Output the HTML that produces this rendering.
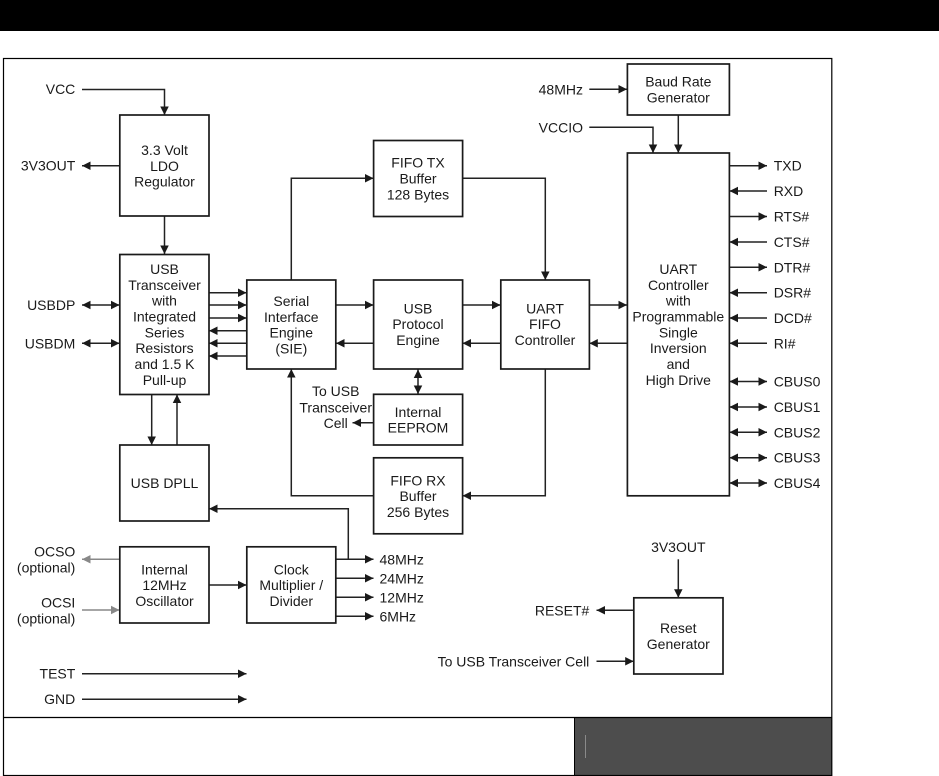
<!DOCTYPE html>
<html><head><meta charset="utf-8"><title>Block diagram</title>
<style>
html,body{margin:0;padding:0;background:#fff}
svg{display:block}
text{font-family:"Liberation Sans",sans-serif;font-size:14px;fill:#1a1a1a}
.m{text-anchor:middle}.e{text-anchor:end}
.b{fill:#fff;stroke:#1a1a1a;stroke-width:1.7}
.l{fill:none;stroke:#222;stroke-width:1.5}
.a{marker-end:url(#h)}
.d{marker-start:url(#h);marker-end:url(#h)}
.g{fill:none;stroke:#888;stroke-width:1.5;marker-end:url(#gh)}
</style></head><body>
<svg width="939" height="776" viewBox="0 0 939 776" xmlns="http://www.w3.org/2000/svg">
<defs>
<marker id="h" viewBox="0 0 8 8" refX="8" refY="4" markerWidth="8.5" markerHeight="9" markerUnits="userSpaceOnUse" orient="auto-start-reverse"><path d="M0,0L8,4L0,8z" fill="#1a1a1a"/></marker>
<marker id="gh" viewBox="0 0 8 8" refX="8" refY="4" markerWidth="8.5" markerHeight="9" markerUnits="userSpaceOnUse" orient="auto"><path d="M0,0L8,4L0,8z" fill="#888"/></marker>
</defs>
<rect x="0" y="0" width="939" height="31" fill="#000"/>
<rect x="574.5" y="717.5" width="257.5" height="58" fill="#4d4d4d"/>
<rect x="585" y="735" width="1" height="23" fill="#8a8a8a"/>
<rect x="3.5" y="58.5" width="828.3" height="717" fill="none" stroke="#000" stroke-width="1.2"/>
<path d="M3.5 717.5H832" stroke="#000" stroke-width="1.2" fill="none"/>
<path d="M574.5 717.5V775.5" stroke="#000" stroke-width="1" fill="none"/>

<!-- connectors -->
<g class="l">
<path class="a" d="M82 89.5H164.5V115"/>
<path class="a" d="M120 165.7H82"/>
<path class="a" d="M164.5 216V254"/>
<path class="d" d="M82 305H119.5"/>
<path class="d" d="M82 343.3H119.5"/>
<path class="a" d="M209 292.7H246.5"/>
<path class="a" d="M209 305H246.5"/>
<path class="a" d="M209 318H246.5"/>
<path class="a" d="M246.5 330.7H209"/>
<path class="a" d="M246.5 343.3H209"/>
<path class="a" d="M246.5 356H209"/>
<path class="a" d="M291.3 280V178.3H373.5"/>
<path class="a" d="M336 305H373.5"/>
<path class="a" d="M373.5 343.3H336"/>
<path class="d" d="M418 369.5V394"/>
<path class="a" d="M462.5 305H500.5"/>
<path class="a" d="M500.5 343.3H462.5"/>
<path class="a" d="M462.5 178.3H545.3V280"/>
<path class="a" d="M589.3 305H627"/>
<path class="a" d="M627 343.3H589.3"/>
<path class="a" d="M545.3 369V495.7H462.5"/>
<path class="a" d="M373.5 495.7H291.3V369"/>
<path class="a" d="M373.5 422.7H352.5"/>
<path class="a" d="M151.7 394V445"/>
<path class="a" d="M177 445V394.5"/>
<path class="a" d="M348.3 559V508.7H209"/>
<path class="a" d="M336 559.3H373.5"/>
<path class="a" d="M336 578.3H373.5"/>
<path class="a" d="M336 597.3H373.5"/>
<path class="a" d="M336 616.3H373.5"/>
<path class="a" d="M209 585H246.5"/>
<path class="a" d="M82 673.7H246.5"/>
<path class="a" d="M82 699.2H246.5"/>
<path class="a" d="M589.3 89.3H627"/>
<path class="a" d="M589.3 127.3H653V153"/>
<path class="a" d="M678.3 115V153"/>
<path class="a" d="M729.5 165.7H767"/>
<path class="a" d="M767 191H729.5"/>
<path class="a" d="M729.5 216.5H767"/>
<path class="a" d="M767 242H729.5"/>
<path class="a" d="M729.5 267.3H767"/>
<path class="a" d="M767 292.7H729.5"/>
<path class="a" d="M767 318H729.5"/>
<path class="a" d="M767 343.3H729.5"/>
<path class="d" d="M729.5 381.5H767"/>
<path class="d" d="M729.5 407H767"/>
<path class="d" d="M729.5 432.3H767"/>
<path class="d" d="M729.5 457.7H767"/>
<path class="d" d="M729.5 483H767"/>
<path class="a" d="M678.3 559.3V597.7"/>
<path class="a" d="M633.7 610.3H596.5"/>
<path class="a" d="M596.5 661.3H633.7"/>
</g>
<path class="g" d="M120 559.3H82"/>
<path class="g" d="M82 610H119.5"/>

<!-- boxes -->
<rect class="b" x="119.8" y="115" width="89.2" height="101"/>
<rect class="b" x="119.8" y="254.5" width="89.2" height="140"/>
<rect class="b" x="119.8" y="445" width="89.2" height="76"/>
<rect class="b" x="119.8" y="546.8" width="89.2" height="76.2"/>
<rect class="b" x="246.8" y="280" width="89" height="89"/>
<rect class="b" x="246.8" y="546.8" width="89" height="76.2"/>
<rect class="b" x="373.6" y="140.5" width="89" height="76"/>
<rect class="b" x="373.6" y="280" width="89" height="89"/>
<rect class="b" x="373.6" y="394.3" width="89" height="50.7"/>
<rect class="b" x="373.6" y="457.8" width="89" height="76"/>
<rect class="b" x="500.8" y="280" width="88.6" height="89"/>
<rect class="b" x="627.4" y="153" width="102" height="342.8"/>
<rect class="b" x="627.4" y="64" width="102" height="51"/>
<rect class="b" x="633.8" y="597.8" width="89.2" height="76.2"/>

<!-- box labels -->
<g class="m">
<text x="164.5" y="155">3.3 Volt</text><text x="164.5" y="170.8">LDO</text><text x="164.5" y="186.7">Regulator</text>
<text x="164.5" y="274">USB</text><text x="164.5" y="289.8">Transceiver</text><text x="164.5" y="305.7">with</text><text x="164.5" y="321.5">Integrated</text><text x="164.5" y="337.3">Series</text><text x="164.5" y="353.2">Resistors</text><text x="164.5" y="369">and 1.5 K</text><text x="164.5" y="384.8">Pull-up</text>
<text x="164.5" y="488">USB DPLL</text>
<text x="164.5" y="574.3">Internal</text><text x="164.5" y="590.1">12MHz</text><text x="164.5" y="606">Oscillator</text>
<text x="291.3" y="306">Serial</text><text x="291.3" y="321.8">Interface</text><text x="291.3" y="337.7">Engine</text><text x="291.3" y="353.5">(SIE)</text>
<text x="291.3" y="574.3">Clock</text><text x="291.3" y="590.1">Multiplier /</text><text x="291.3" y="606">Divider</text>
<text x="418" y="167.7">FIFO TX</text><text x="418" y="183.5">Buffer</text><text x="418" y="199.3">128 Bytes</text>
<text x="418" y="313.3">USB</text><text x="418" y="329.2">Protocol</text><text x="418" y="345">Engine</text>
<text x="418" y="417">Internal</text><text x="418" y="432.5">EEPROM</text>
<text x="418" y="485.3">FIFO RX</text><text x="418" y="501.2">Buffer</text><text x="418" y="517">256 Bytes</text>
<text x="545" y="313.3">UART</text><text x="545" y="329.2">FIFO</text><text x="545" y="345">Controller</text>
<text x="678.3" y="86.7">Baud Rate</text><text x="678.3" y="102.5">Generator</text>
<text x="678.3" y="274">UART</text><text x="678.3" y="289.8">Controller</text><text x="678.3" y="305.7">with</text><text x="678.3" y="321.5">Programmable</text><text x="678.3" y="337.3">Single</text><text x="678.3" y="353.2">Inversion</text><text x="678.3" y="369">and</text><text x="678.3" y="384.8">High Drive</text>
<text x="678.3" y="633">Reset</text><text x="678.3" y="649">Generator</text>
<text x="678.3" y="552">3V3OUT</text>
<text x="335.7" y="396">To USB</text><text x="335.7" y="412.3">Transceiver</text><text x="335.7" y="427.8">Cell</text>
</g>

<!-- left/outer labels -->
<g class="e">
<text x="75.3" y="94">VCC</text>
<text x="75.3" y="170.7">3V3OUT</text>
<text x="75.3" y="310">USBDP</text>
<text x="75.3" y="348.3">USBDM</text>
<text x="75.3" y="556.7">OCSO</text><text x="75.3" y="572.5">(optional)</text>
<text x="75.3" y="607.7">OCSI</text><text x="75.3" y="623.5">(optional)</text>
<text x="75.3" y="678.7">TEST</text>
<text x="75.3" y="704.2">GND</text>
<text x="583" y="94.3">48MHz</text>
<text x="583" y="132.3">VCCIO</text>
<text x="589.3" y="615.3">RESET#</text>
<text x="589.3" y="666.3">To USB Transceiver Cell</text>
</g>
<text x="379.5" y="564.7">48MHz</text>
<text x="379.5" y="583.7">24MHz</text>
<text x="379.5" y="602.7">12MHz</text>
<text x="379.5" y="621.7">6MHz</text>
<text x="773.7" y="170.7">TXD</text>
<text x="773.7" y="196">RXD</text>
<text x="773.7" y="221.5">RTS#</text>
<text x="773.7" y="247">CTS#</text>
<text x="773.7" y="272.3">DTR#</text>
<text x="773.7" y="297.7">DSR#</text>
<text x="773.7" y="323">DCD#</text>
<text x="773.7" y="348.3">RI#</text>
<text x="773.7" y="386.5">CBUS0</text>
<text x="773.7" y="412">CBUS1</text>
<text x="773.7" y="437.3">CBUS2</text>
<text x="773.7" y="462.7">CBUS3</text>
<text x="773.7" y="488">CBUS4</text>
</svg>
</body></html>
